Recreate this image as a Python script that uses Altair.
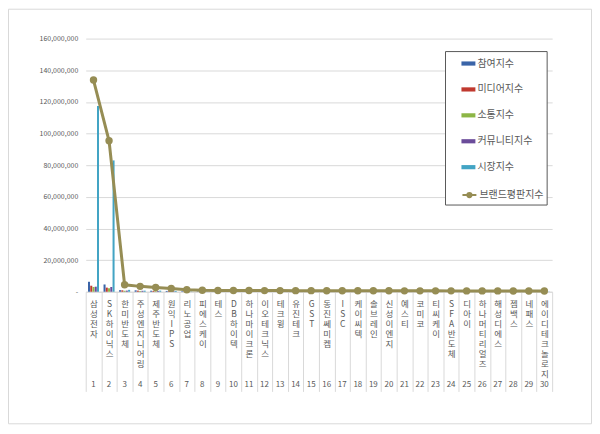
import pandas as pd
import altair as alt

names = ["삼성전자", "SK하이닉스", "한미반도체", "주성엔지니어링", "제주반도체", "원익IPS",
         "리노공업", "피에스케이", "테스", "DB하이텍", "하나마이크론", "이오테크닉스",
         "테크윙", "유진테크", "GST", "동진쎄미켐", "ISC", "케이씨텍", "솔브레인", "신성이엔지",
         "예스티", "코미코", "티씨케이", "SFA반도체", "디아이", "하나머티리얼즈", "해성디에스",
         "젬백스", "네패스", "에이디테크놀로지"]
ranks = list(range(1, 31))

series = ["참여지수", "미디어지수", "소통지수", "커뮤니티지수", "시장지수"]
colors = ["#3A64A8", "#C0392F", "#8DB646", "#6B4C9A", "#43A4C4"]

participation = [6300000, 4600000, 1000000, 900000, 650000, 500000, 350000, 250000, 220000, 210000,
                 200000, 200000, 190000, 180000, 180000, 170000, 170000, 160000, 160000, 150000,
                 150000, 150000, 140000, 140000, 140000, 130000, 130000, 130000, 120000, 120000]
media = [3800000, 2600000, 900000, 700000, 500000, 400000, 300000, 200000, 180000, 170000,
         160000, 150000, 150000, 140000, 140000, 130000, 130000, 120000, 120000, 120000,
         110000, 110000, 110000, 100000, 100000, 100000, 100000, 90000, 90000, 90000]
communication = [3000000, 2200000, 600000, 500000, 400000, 300000, 200000, 150000, 140000, 130000,
                 130000, 120000, 120000, 120000, 110000, 110000, 100000, 100000, 100000, 100000,
                 100000, 90000, 90000, 90000, 90000, 90000, 80000, 80000, 80000, 80000]
community = [3200000, 3000000, 700000, 600000, 450000, 400000, 250000, 150000, 140000, 140000,
             140000, 130000, 130000, 130000, 120000, 120000, 120000, 120000, 110000, 110000,
             110000, 110000, 110000, 110000, 100000, 100000, 100000, 100000, 100000, 90000]
market = [117400000, 83000000, 1200000, 700000, 700000, 500000, 200000, 150000, 120000, 130000,
          130000, 140000, 130000, 130000, 130000, 130000, 120000, 120000, 110000, 110000,
          110000, 110000, 110000, 110000, 110000, 110000, 110000, 110000, 110000, 100000]
brand = [133800000, 95400000, 4400000, 3400000, 2700000, 2100000, 1300000, 900000, 800000, 780000,
         760000, 740000, 720000, 700000, 680000, 660000, 640000, 620000, 600000, 590000,
         580000, 570000, 560000, 550000, 540000, 530000, 520000, 510000, 500000, 490000]

FONT = "Noto Sans CJK KR"
GRAY = "#595959"
W, H = 468, 254

# long-form table for the grouped bars
bar_rows = []
for s, vals in zip(series, [participation, media, communication, community, market]):
    for n, v in zip(names, vals):
        bar_rows.append({"name": n, "series": s, "value": v})
bars_df = pd.DataFrame(bar_rows)
line_df = pd.DataFrame({"name": names, "value": brand, "line": "브랜드평판지수"})
rank_df = pd.DataFrame({"name": names, "rank": ranks})

# labels are drawn after the long separator ticks, so pull them back up
x_enc = alt.X("name:N", sort=names, title=None,
              scale=alt.Scale(paddingInner=0, paddingOuter=0),
              axis=alt.Axis(labelExpr="split(datum.label, '')", labelAngle=0,
                            labelFont=FONT, labelFontSize=8.5, labelColor=GRAY,
                            labelLineHeight=10, labelBaseline="top", labelPadding=-92,
                            tickBand="extent", tickSize=100, tickColor="#d9d9d9",
                            domainColor="#d9d9d9", labelOverlap=False))
y_enc = alt.Y("value:Q", title=None,
              scale=alt.Scale(domain=[0, 160000000], nice=False),
              axis=alt.Axis(values=list(range(0, 160000001, 20000000)),
                            labelExpr="datum.value == 0 ? '-' : format(datum.value, ',')",
                            labelFont=FONT, labelFontSize=7, labelColor=GRAY,
                            labelPadding=8, domain=False, ticks=False,
                            gridColor="#d9d9d9"))

one = pd.DataFrame({"a": [0]})
frame = alt.Chart(one).mark_rect(fill=None, stroke="#d9d9d9", strokeWidth=1).encode(
    x=alt.value(-77.5), x2=alt.value(507.5), y=alt.value(-29.5), y2=alt.value(386.5)
)
legend_box = alt.Chart(one).mark_rect(fill="white", stroke=GRAY, strokeWidth=1).encode(
    x=alt.value(361), x2=alt.value(463), y=alt.value(13), y2=alt.value(167)
)

bars = alt.Chart(bars_df).mark_bar().encode(
    x=x_enc,
    xOffset=alt.XOffset("series:N", sort=series,
                        scale=alt.Scale(paddingInner=0.1, paddingOuter=1)),
    y=y_enc,
    color=alt.Color("series:N", sort=series,
                    scale=alt.Scale(domain=series, range=colors),
                    legend=alt.Legend(title=None, orient="none", legendX=377, legendY=18,
                                      symbolType="M-1,-0.3H1V0.3H-1Z", symbolSize=196,
                                      symbolStrokeWidth=0, labelFont=FONT, labelFontSize=10,
                                      labelColor=GRAY, rowPadding=14, labelOffset=2)),
)

line = alt.Chart(line_df).mark_line(strokeWidth=3).encode(
    x=x_enc,
    y=y_enc,
    stroke=alt.Stroke("line:N", scale=alt.Scale(range=["#968D54"]),
                      legend=alt.Legend(title=None, orient="none", legendX=377, legendY=149,
                                        symbolType="M-1,0H1M0.3,0A0.3,0.3,0,1,1,-0.3,0A0.3,0.3,0,1,1,0.3,0",
                                        symbolSize=196, symbolStrokeWidth=2,
                                        symbolFillColor="#968D54", labelFont=FONT,
                                        labelFontSize=10, labelColor=GRAY, labelOffset=2)),
)
points = alt.Chart(line_df).mark_circle(size=55, opacity=1, color="#968D54").encode(
    x=x_enc,
    y=y_enc,
)

rank_text = alt.Chart(rank_df).mark_text(font=FONT, fontSize=8, color=GRAY, baseline="middle").encode(
    x=alt.X("name:N", sort=names),
    y=alt.value(H + 94),
    text="rank:N",
)

chart = alt.layer(frame, legend_box, bars, line, points, rank_text).properties(
    width=W, height=H,
    autosize=alt.AutoSizeParams(type="none"),
    padding={"left": 78, "top": 30, "right": 40, "bottom": 133},
).configure_view(stroke=None)

chart.save("out.html", embed_options={"renderer": "svg", "actions": False})
